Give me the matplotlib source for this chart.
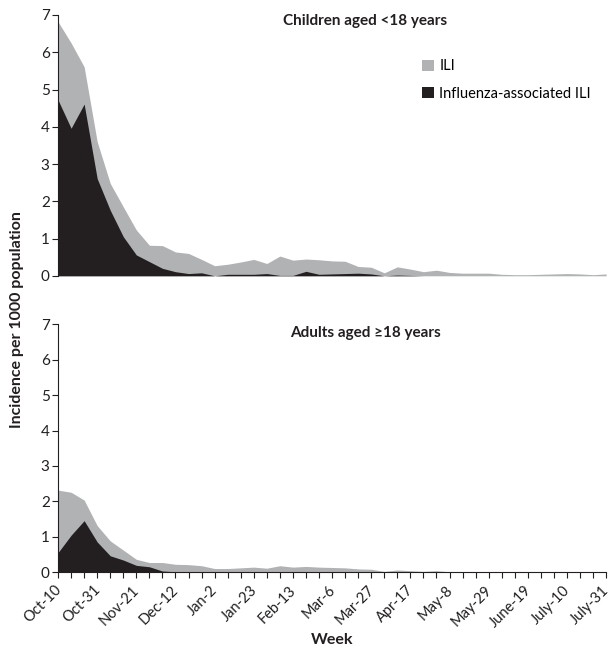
import numpy as np
import matplotlib.pyplot as plt
import matplotlib.transforms as mtransforms

plt.rcParams['font.family'] = ['Lato', 'DejaVu Sans']

# weekly data, Oct-10 .. July-31 (43 weeks)
week_labels = ["Oct-10", "Oct-31", "Nov-21", "Dec-12", "Jan-2", "Jan-23", "Feb-13",
               "Mar-6", "Mar-27", "Apr-17", "May-8", "May-29", "June-19", "July-10", "July-31"]

child_ili = [6.82, 6.25, 5.61, 3.60, 2.48, 1.85, 1.23, 0.82, 0.81, 0.64, 0.60,
             0.44, 0.27, 0.31, 0.37, 0.44, 0.33, 0.53, 0.42, 0.45, 0.43, 0.40,
             0.39, 0.25, 0.23, 0.08, 0.24, 0.18, 0.11, 0.15, 0.09, 0.07, 0.07,
             0.07, 0.04, 0.03, 0.03, 0.04, 0.05, 0.06, 0.05, 0.03, 0.05]
child_flu = [4.72, 3.96, 4.61, 2.61, 1.76, 1.05, 0.56, 0.38, 0.20, 0.11, 0.06,
             0.08, 0.00, 0.04, 0.04, 0.04, 0.06, 0.01, 0.01, 0.12, 0.04, 0.05,
             0.06, 0.07, 0.05, 0.00, 0.02, 0.01, 0.00, 0.00, 0.00, 0.00, 0.00,
             0.00, 0.00, 0.00, 0.00, 0.00, 0.00, 0.00, 0.00, 0.00, 0.00]

adult_ili = [2.32, 2.26, 2.04, 1.32, 0.89, 0.63, 0.37, 0.28, 0.28, 0.23, 0.22,
             0.19, 0.11, 0.11, 0.13, 0.15, 0.12, 0.19, 0.15, 0.17, 0.15, 0.14,
             0.13, 0.10, 0.09, 0.03, 0.07, 0.05, 0.03, 0.05, 0.02, 0.01, 0.01,
             0.01, 0.01, 0.01, 0.01, 0.01, 0.01, 0.01, 0.01, 0.01, 0.01]
adult_flu = [0.56, 1.05, 1.46, 0.86, 0.47, 0.35, 0.20, 0.16, 0.04, 0.02, 0.01,
             0.01, 0.01, 0.00, 0.00, 0.00, 0.00, 0.00, 0.00, 0.00, 0.00, 0.00,
             0.00, 0.00, 0.00, 0.00, 0.00, 0.00, 0.00, 0.00, 0.00, 0.00, 0.00,
             0.00, 0.00, 0.00, 0.00, 0.00, 0.00, 0.00, 0.00, 0.00, 0.00]

grey = "#b1b2b4"
black = "#231f20"
x = np.arange(len(child_ili))

fig = plt.figure(figsize=(6.11, 6.52), dpi=100)
ax1 = fig.add_axes([0.095, 0.577, 0.897, 0.400])
ax2 = fig.add_axes([0.095, 0.122, 0.897, 0.381])

for ax, ili, flu in [(ax1, child_ili, child_flu), (ax2, adult_ili, adult_flu)]:
    ax.fill_between(x, 0, ili, color=grey, lw=0, label="ILI")
    ax.fill_between(x, 0, flu, color=black, lw=0, label="Influenza-associated ILI")
    ax.set_xlim(0, len(x) - 1)
    ax.set_ylim(0, 7)
    ax.set_yticks(range(8))
    ax.tick_params(axis="y", direction="out", length=4, width=0.8, labelsize=11,
                   colors=black, pad=2)
    for s in ["top", "right"]:
        ax.spines[s].set_visible(False)
    ax.spines["left"].set_color(black)
    ax.spines["left"].set_linewidth(0.8)

# top panel: no x axis
ax1.spines["bottom"].set_visible(False)
ax1.set_xticks([])
ax1.set_title("Children aged <18 years", fontsize=11, fontweight="bold", x=0.56, y=0.93,
              color=black)
ax1.legend(loc="upper left", bbox_to_anchor=(0.64, 0.88), frameon=False, fontsize=10.5,
           handlelength=0.8, handleheight=0.8, handletextpad=0.4, labelspacing=0.9)

# bottom panel
ax2.spines["bottom"].set_color(black)
ax2.spines["bottom"].set_linewidth(0.8)
ax2.set_xticks(x, minor=True)
ax2.set_xticks(x[::3])
ax2.set_xticklabels(week_labels, rotation=45, ha="right", rotation_mode="anchor", fontsize=10.5)
ax2.tick_params(axis="x", which="both", direction="out", length=4, width=0.8, colors=black)
shift = mtransforms.ScaledTranslation(-4 / 100, 0, fig.dpi_scale_trans)
for lbl in ax2.get_xticklabels():
    lbl.set_transform(lbl.get_transform() + shift)
ax2.set_title("Adults aged \u226518 years", fontsize=11, fontweight="bold", x=0.56, y=0.915,
              color=black)
ax2.set_xlabel("Week", fontsize=11.5, fontweight="bold", labelpad=2, color=black)

fig.text(0.028, 0.51, "Incidence per 1000 population", rotation=90, va="center", ha="center",
         fontsize=11.5, fontweight="bold", color=black)

plt.savefig("out.png", dpi=100)
